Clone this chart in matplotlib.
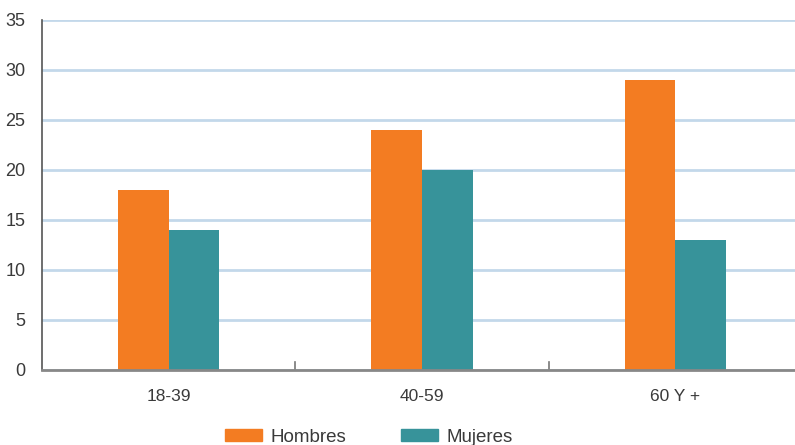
import numpy as np
import matplotlib.pyplot as plt
from matplotlib.patches import Patch

# -------- DATA --------
grupos = ["18-39", "40-59", "60 Y +"]
hombres = [18, 24, 29]
mujeres = [14, 20, 13]

c_hombres = "#F37C22"
c_mujeres = "#37939A"
c_texto = "#3a3a3a"

plt.rcParams['font.family'] = ['Liberation Sans', 'DejaVu Sans']

# -------- PLOT --------
fig = plt.figure(figsize=(7.95, 4.45), dpi=100)
ax = fig.add_axes([42 / 795, 75 / 445, 760 / 795, 350 / 445])

x = np.arange(len(grupos))
w = 0.2
ax.bar(x - w / 2, hombres, w, color=c_hombres, zorder=3)
ax.bar(x + w / 2, mujeres, w, color=c_mujeres, zorder=3)

ax.set_xlim(-0.5, len(grupos) - 0.5)
ax.set_ylim(0, 35)
ax.set_yticks(range(0, 36, 5))
ax.yaxis.grid(True, color="#C3D8EA", linewidth=2, zorder=0)
ax.set_axisbelow(True)

ax.set_xticks(x)
ax.set_xticklabels(grupos)
ax.tick_params(axis='x', length=0, pad=14, labelsize=12.5, labelcolor=c_texto)
ax.tick_params(axis='y', length=0, pad=12, labelsize=13, labelcolor=c_texto)

# separators between age groups
for b in x[:-1] + 0.5:
    ax.plot([b, b], [0, 0.8], color="#777777", lw=1.2, zorder=4, clip_on=False)

for s in ['top', 'right']:
    ax.spines[s].set_visible(False)
ax.spines['left'].set_color("#555555")
ax.spines['left'].set_linewidth(1.2)
ax.spines['bottom'].set_color("#888888")
ax.spines['bottom'].set_linewidth(2)
ax.spines['bottom'].set_zorder(5)

handles = [Patch(color=c_hombres, label="Hombres"), Patch(color=c_mujeres, label="Mujeres")]
fig.legend(handles=handles, loc='center', bbox_to_anchor=(369 / 795, 8 / 445), ncol=2,
           frameon=False, fontsize=13.5, labelcolor=c_texto, handlelength=2.0,
           handleheight=0.6, columnspacing=2.9, handletextpad=0.45)

fig.savefig("out.png", dpi=100)
